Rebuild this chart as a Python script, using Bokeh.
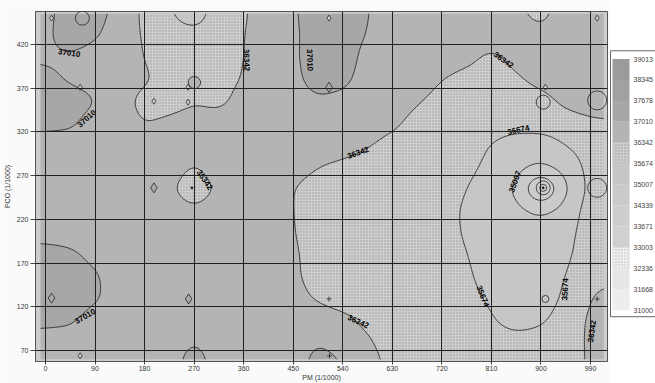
import numpy as np
from bokeh.plotting import figure
from bokeh.layouts import row
from bokeh.models import Range1d, FixedTicker
from bokeh.core.properties import value
from bokeh.embed import file_html
from bokeh.resources import INLINE

# ---------------- data ----------------
levels = [31000, 31668, 32336, 33003, 33671, 34339, 35007, 35674, 36342, 37010, 37678, 38345, 39013]
x_ticks = [0, 90, 180, 270, 360, 450, 540, 630, 720, 810, 900, 990]
y_ticks = [70, 120, 170, 220, 270, 320, 370, 420]
x_title = "PM (1/1000)"
y_title = "PCO (1/1000)"

# coarse field (values in hundreds)
grid_x = [-45, 0, 45, 90, 135, 180, 225, 270, 315, 360, 405, 450, 495, 540, 585,
          630, 675, 720, 765, 810, 855, 900, 945, 990, 1035]
grid_y = [30, 55, 80, 105, 130, 155, 180, 205, 230, 255, 280, 305, 330, 355, 380, 405, 430, 455, 480]
pco_hundreds = [
    [367, 367, 367, 367, 367, 367, 367, 374, 367, 367, 367, 367, 373, 370.5, 366, 362, 360, 360, 360, 360, 360, 360, 360, 364.5, 367],
    [367, 367, 367, 367, 367, 367, 367, 374, 367, 367, 367, 367, 373, 370.5, 366, 362, 360, 360, 360, 360, 360, 360, 360, 364.5, 367],
    [367, 367, 367, 367, 367, 367, 367, 370.1, 367, 367, 367, 367, 369.9, 367.5, 364.5, 360, 360, 360, 360, 360, 360, 360, 360.5, 364.5, 367],
    [373, 372, 371.3, 367, 367, 367, 367, 367, 367, 367, 367, 367, 367, 365.5, 361.5, 360, 360, 360, 360, 357.5, 353, 355.5, 360, 364.5, 367],
    [374.5, 374.5, 374, 371.2, 367, 367, 367, 367, 367, 367, 367, 366, 362.5, 360, 360, 360, 360, 360, 359, 355.5, 353, 353, 358, 363.4, 367],
    [374.5, 374, 374, 371, 367, 367, 367, 367, 367, 367, 367, 365, 360, 360, 360, 360, 360, 360, 358, 353.5, 353, 353, 356.8, 361, 362],
    [374, 373, 371.5, 368, 367, 367, 367, 367, 367, 367, 367, 364.5, 360.5, 360, 360, 360, 360, 359.8, 357, 353, 353, 353, 355.5, 360, 360],
    [367, 367, 367, 367, 367, 367, 367, 367, 367, 367, 367, 363.8, 360, 360, 360, 360, 360, 359.5, 355.8, 353, 353, 353, 354.5, 360, 360],
    [367, 367, 367, 367, 367, 367, 367, 364.5, 367, 367, 367, 363.5, 360, 360, 360, 360, 360, 359.5, 355.5, 353, 352, 349, 352.5, 360, 360],
    [367, 367, 367, 367, 367, 367, 364.5, 359, 364.5, 367, 367, 363.5, 360, 360, 360, 360, 360, 360, 356.8, 353, 349.7, 332, 349.3, 359, 360],
    [367, 367, 367, 367, 367, 367, 367, 362.5, 367, 367, 367, 366.5, 363.6, 361.5, 360, 360, 360, 360, 358.5, 355, 352, 349.5, 352.5, 359, 360],
    [367, 367, 367, 367, 367, 367, 367, 367, 367, 367, 367, 367, 367, 367, 364, 361, 360, 360, 359.5, 356.5, 353, 353, 357, 359.5, 360],
    [373, 372, 371.5, 367, 367, 363, 365, 367, 366.5, 367, 367, 367, 367, 367, 367, 365, 361, 360, 360, 360, 360, 360, 360.5, 362, 363],
    [374, 374, 373.5, 370.5, 366, 361, 360.5, 362.5, 361.5, 366, 367, 367, 369, 368, 367, 367, 364, 361, 360, 360, 360, 361, 365, 367, 367],
    [374, 372, 369, 367.5, 367, 364.5, 361, 365.5, 361, 363.8, 367, 368, 373.5, 372, 367, 367, 367, 363.4, 361, 360, 362.5, 365.5, 367, 367, 367],
    [369.5, 369, 369, 367, 367, 363.2, 360, 360, 360, 363.4, 367, 368.7, 374, 374, 367.3, 367, 367, 367, 365.5, 361.5, 365.5, 367, 367, 367, 367],
    [367, 368.5, 374, 371, 367, 362.6, 360, 359.5, 360, 363.2, 367, 368.5, 374, 374, 369.6, 367, 367, 367, 367, 367, 367, 365.3, 367, 367, 367],
    [367, 368, 373.5, 372, 368.5, 361.8, 357.5, 352, 361, 362.5, 367, 369, 374, 374, 370.3, 367, 367, 367, 367, 367, 364.8, 361, 367, 367, 367],
    [367, 368, 373.5, 372, 368.5, 361.8, 357.5, 352, 361, 362.5, 367, 369, 374, 374, 370.3, 367, 367, 367, 367, 367, 364.8, 361, 367, 367, 367],
]

# sample points (marker groups)
dia_small_x = [11, 515, 1002, 63, 197, 259, 908, 63, 259]
dia_small_y = [450, 450, 450, 371, 355, 354, 371, 64, 371]
dia_big_x = [515, 197, 11, 260]
dia_big_y = [371, 256, 130, 129]
plus_x = [515, 1002, 516]
plus_y = [129, 129, 64]
dot_x = [266, 904]
dot_y = [256, 256]
ring_s_x = [908, 904]
ring_s_y = [129, 256]
ring_m_x = [904, 67, 904]
ring_m_y = [354, 450, 256]
ring_l_x = [1002, 1002]
ring_l_y = [356, 256]

# contour labels
lab_text = ["37010", "37010", "36342", "37010", "36342", "36342", "36342", "35674",
            "35007", "35674", "35674", "36342", "36342", "37010"]
lab_x = [43, 75, 365, 480, 289, 568, 832, 859, 853, 794, 944, 568, 993, 72]
lab_y = [410, 335, 402, 402, 265, 296, 402, 322, 263, 132, 140, 103, 92, 109]
lab_ang = [-8, 42, -88, -88, -55, 20, -35, 12, 70, -68, 88, -25, 82, 30]

# ---------------- field ----------------
gx = np.array(grid_x, float)
gy = np.array(grid_y, float)
G = np.array(pco_hundreds, float) * 100.0
xs = np.linspace(-9, 1014, 342)
ys = np.linspace(60, 455, 240)
A = np.array([np.interp(xs, gx, r) for r in G])
Z = np.array([np.interp(ys, gy, A[:, i]) for i in range(A.shape[1])]).T


def blur(a, sigma, axis):
    r = int(3 * sigma) + 1
    k = np.exp(-0.5 * (np.arange(-r, r + 1) / sigma) ** 2)
    k /= k.sum()
    return np.apply_along_axis(lambda v: np.convolve(np.pad(v, r, mode="edge"), k, mode="valid"), axis, a)


Z = blur(blur(Z, 4.5, 1), 4.5, 0)

fills = ["#ededed", "#e6e6e6", "#d9d9d9", "#d0d0d0", "#cdcdcd", "#cacaca",
         "#c6c6c6", "#b9b9b9", "#b4b4b4", "#a7a7a7", "#a1a1a1", "#9b9b9b"]
hatches = [" ", " ", "+", " ", " ", " ", " ", "+", " ", " ", " ", " "]
hatch_cols = ["#ffffff"] * 2 + ["#eeeeee"] + ["#ffffff"] * 4 + ["#cdcdcd"] + ["#ffffff"] * 4

# ---------------- main figure ----------------
p = figure(width=609, height=383, x_range=Range1d(-18.1, 1020.8), y_range=Range1d(57.5, 457.6),
           output_backend="svg", toolbar_location=None,
           min_border_left=33, min_border_right=2, min_border_top=11, min_border_bottom=21)
p.background_fill_color = "#cdcdcd"
p.border_fill_color = "#fafafa"
p.outline_line_color = "#555555"

p.contour(x=xs, y=ys, z=Z, levels=levels, fill_color=fills, hatch_pattern=hatches,
          hatch_color=hatch_cols, hatch_scale=3, hatch_weight=1,
          line_color="#1a1a1a", line_width=0.8)

mk = dict(line_color="#111111", line_width=0.7)
p.scatter(dia_small_x, dia_small_y, marker="diamond", size=6, fill_color="#cfcfcf", **mk)
p.scatter(dia_big_x, dia_big_y, marker="diamond", size=10, fill_color="#a9a9a9", **mk)
p.scatter(plus_x, plus_y, marker="cross", size=5, **mk)
p.scatter(dot_x, dot_y, marker="circle", size=2, fill_color="#111111", **mk)
p.scatter(ring_s_x, ring_s_y, marker="circle", size=7, fill_color=None, **mk)
p.scatter(ring_m_x, ring_m_y, marker="circle", size=14, fill_color=None, **mk)
p.scatter(ring_l_x, ring_l_y, marker="circle", size=19, fill_color=None, **mk)

p.text(x=lab_x, y=lab_y, text=lab_text, angle=lab_ang, angle_units="deg",
       text_font=value("Liberation Sans"), text_font_size="8px", text_font_style="bold",
       text_color="#000000", text_align="center", text_baseline="middle")

for ax, tk in ((p.xaxis, x_ticks), (p.yaxis, y_ticks)):
    ax.ticker = FixedTicker(ticks=tk)
    ax.minor_tick_line_color = None
    ax.major_tick_in = 0
    ax.axis_line_color = "#555555"
    ax.major_tick_line_color = "#444444"
    ax.major_label_text_font = "Liberation Sans"
    ax.major_label_text_font_size = "7px"
    ax.major_label_text_color = "#333333"
    ax.axis_label_text_font = "Liberation Sans"
    ax.axis_label_text_font_size = "7px"
    ax.axis_label_text_font_style = "normal"
    ax.axis_label_text_color = "#333333"
    ax.axis_label_standoff = 0
p.xaxis.axis_label = x_title
p.yaxis.axis_label = y_title
p.yaxis.axis_label_standoff = 3
p.xaxis.major_tick_out = 3
p.xaxis.major_label_standoff = 1
p.yaxis.major_tick_out = 5
p.yaxis.major_label_standoff = 2

p.grid.grid_line_color = "#202020"
p.grid.grid_line_width = 1
p.grid.level = "overlay"

# ---------------- legend figure ----------------
px_per_val = 275.0 / (levels[-1] - levels[0])
top_val = levels[-1] + 52 / px_per_val
bot_val = levels[0] - 56 / px_per_val
p2 = figure(width=46, height=383, x_range=Range1d(0, 46), y_range=Range1d(bot_val, top_val),
            output_backend="svg", toolbar_location=None, min_border=0,
            x_axis_location=None, y_axis_location=None)
p2.grid.visible = False
p2.outline_line_color = None
p2.background_fill_color = "#ffffff"
p2.border_fill_color = "#ffffff"
p2.quad(left=1, right=80, top=levels[-1] + 9 / px_per_val, bottom=levels[0] - 7 / px_per_val,
        fill_color=None, line_color="#666666", line_width=1)
p2.quad(left=3, right=20, bottom=levels[:-1], top=levels[1:], fill_color=fills,
        hatch_pattern=hatches, hatch_color=hatch_cols, hatch_scale=3, hatch_weight=1, line_color=None)
p2.text(x=24, y=levels, text=[str(v) for v in levels], text_baseline="middle",
        text_font=value("Liberation Sans"), text_font_size="7px", text_color="#444444")

layout = row(p, p2)
open("out.html", "w").write(file_html(layout, INLINE))
